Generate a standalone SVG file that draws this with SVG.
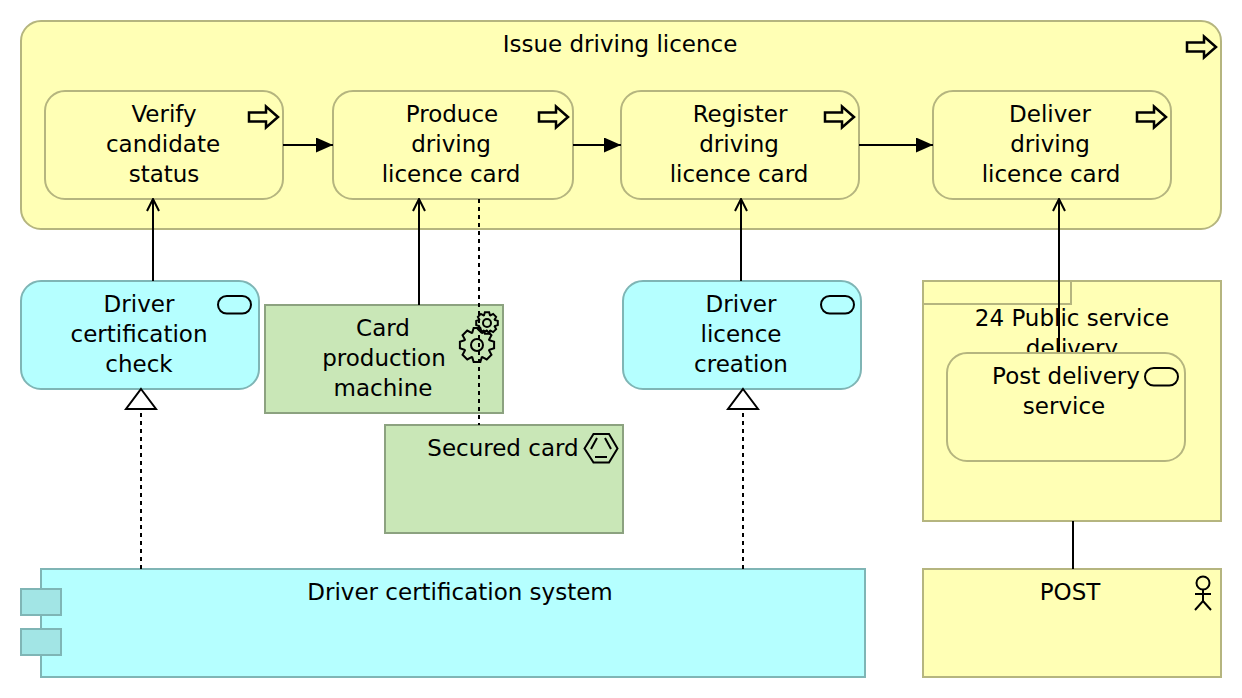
<svg xmlns="http://www.w3.org/2000/svg" width="1242" height="698" viewBox="0 0 1242 698">
<style>
text{font-family:"DejaVu Sans","Liberation Sans",sans-serif;font-size:23px;fill:#000;text-anchor:middle}
.y{fill:#ffffb5;stroke:#b5b57f;stroke-width:2}
.c{fill:#b5ffff;stroke:#7fb5b5;stroke-width:2}
.g{fill:#c9e7b7;stroke:#8ca280;stroke-width:2}
.i{fill:none;stroke:#000;stroke-width:2}
.l{fill:none;stroke:#000;stroke-width:2}
.d{fill:none;stroke:#000;stroke-width:2;stroke-dasharray:4 4}
.t{fill:#fff;stroke:#000;stroke-width:2}
.m{fill:#a2e5e5;stroke:#7fb5b5;stroke-width:2}
.ge{fill:none;stroke:#000;stroke-width:2;vector-effect:non-scaling-stroke}
</style>
<defs>
<marker id="tri" markerUnits="userSpaceOnUse" viewBox="0 0 17 15" refX="17" refY="7.500" markerWidth="17" markerHeight="15" orient="auto"><path d="M0 0L17 7.500L0 15Z" fill="#000"/></marker>
<marker id="open" markerUnits="userSpaceOnUse" viewBox="0 0 14 14" refX="13" refY="7" markerWidth="14" markerHeight="14" orient="auto"><path d="M1 1L13 7L1 13" fill="none" stroke="#000" stroke-width="2"/></marker>
<path id="proc" d="M0 -4.500H17V-10.500L29 0L17 10.500V4.500H0Z" fill="none" stroke="#000" stroke-width="2.500"/>
<rect id="svc" x="0" y="0" width="33" height="17.500" rx="8.750" fill="none" stroke="#000" stroke-width="2"/>
<path id="gear" class="ge" d="M-3.500 -18L3.500 -18L5 -13L5.660 -12.730L10.250 -15.200L15.200 -10.250L12.730 -5.660L13 -5L18 -3.500L18 3.500L13 5L12.730 5.660L15.200 10.250L10.250 15.200L5.660 12.730L5 13L3.500 18L-3.500 18L-5 13L-5.660 12.730L-10.250 15.200L-15.200 10.250L-12.730 5.660L-13 5L-18 3.500L-18 -3.500L-13 -5L-12.730 -5.660L-15.200 -10.250L-10.250 -15.200L-5.660 -12.730L-5 -13Z"/>
</defs>

<g id="issue"><rect class="y" x="21" y="21" width="1200" height="208" rx="20"/><text x="620" y="52">Issue driving licence</text><use href="#proc" x="1187" y="47"/></g>
<g id="verify"><rect class="y" x="45" y="91" width="238" height="108" rx="20"/><text x="164" y="122">Verify</text><text x="163" y="152">candidate</text><text x="164" y="182">status</text><use href="#proc" x="249" y="117"/></g>
<g id="produce"><rect class="y" x="333" y="91" width="240" height="108" rx="20"/><text x="452" y="122">Produce</text><text x="451" y="152">driving</text><text x="451" y="182">licence card</text><use href="#proc" x="539" y="117"/></g>
<g id="register"><rect class="y" x="621" y="91" width="238" height="108" rx="20"/><text x="740" y="122">Register</text><text x="739" y="152">driving</text><text x="739" y="182">licence card</text><use href="#proc" x="825" y="117"/></g>
<g id="deliver"><rect class="y" x="933" y="91" width="238" height="108" rx="20"/><text x="1050" y="122">Deliver</text><text x="1050" y="152">driving</text><text x="1051" y="182">licence card</text><use href="#proc" x="1137" y="117"/></g>

<g id="check"><rect class="c" x="21" y="281" width="238" height="108" rx="20"/><text x="139" y="312">Driver</text><text x="139" y="342">certification</text><text x="139" y="372">check</text><use href="#svc" x="218" y="296"/></g>
<g id="machine"><rect class="g" x="265" y="305" width="238" height="108"/><text x="383" y="336">Card</text><text x="384" y="366">production</text><text x="383" y="396">machine</text>
<use href="#gear" transform="translate(477 345) scale(.95)"/><circle class="i" cx="477" cy="345" r="6"/>
<use href="#gear" transform="translate(487 323) scale(.6)"/><circle class="i" cx="487" cy="323" r="4"/></g>
<g id="creation"><rect class="c" x="623" y="281" width="238" height="108" rx="20"/><text x="741" y="312">Driver</text><text x="741" y="342">licence</text><text x="741" y="372">creation</text><use href="#svc" x="821" y="296"/></g>
<g id="card"><rect class="g" x="385" y="425" width="238" height="108"/><text x="503" y="456">Secured card</text>
<path class="i" d="M584.500 448.500L593.500 434H609L617.500 448.500L609 462.500H593.500Z"/><path class="i" d="M591 449L597 438M605 438L611 449M595 457H607"/></g>
<g id="system"><rect class="c" x="41" y="569" width="824" height="108"/><rect class="m" x="21" y="589" width="40" height="26"/><rect class="m" x="21" y="629" width="40" height="26"/><text x="460" y="600">Driver certification system</text></g>
<g id="delivery"><rect class="y" x="923" y="281" width="298" height="240"/><path class="y" d="M923 281H1071V304H923Z"/><text x="1072" y="326">24 Public service</text><text x="1072" y="356">delivery</text></g>
<g id="post"><rect class="y" x="923" y="569" width="298" height="108"/><text x="1070" y="600">POST</text><circle class="i" cx="1203" cy="583" r="6.500"/><path class="i" d="M1203 590V601M1195 594H1211M1195 610L1203 601L1211 610"/></g>

<g id="connectors">
<path class="l" marker-end="url(#tri)" d="M283 145H333"/>
<path class="l" marker-end="url(#tri)" d="M573 145H621"/>
<path class="l" marker-end="url(#tri)" d="M859 145H933"/>
<path class="l" marker-end="url(#open)" d="M153 281V199"/>
<path class="l" marker-end="url(#open)" d="M419 305V199"/>
<path class="l" marker-end="url(#open)" d="M741 281V199"/>
<path class="l" marker-end="url(#open)" d="M1059 353V199"/>
<path class="d" d="M479 199V425"/>
<path class="d" d="M141 569V413"/>
<path class="d" d="M743 569V413"/>
<path class="t" d="M141 389L156 409H126Z"/>
<path class="t" d="M743 389L758 409H728Z"/>
<path class="l" d="M1073 521V569"/>
</g>
<g id="postservice"><rect class="y" x="947" y="353" width="238" height="108" rx="20"/><text x="1066" y="384">Post delivery</text><text x="1064" y="414">service</text><use href="#svc" x="1145" y="368"/></g>
</svg>
